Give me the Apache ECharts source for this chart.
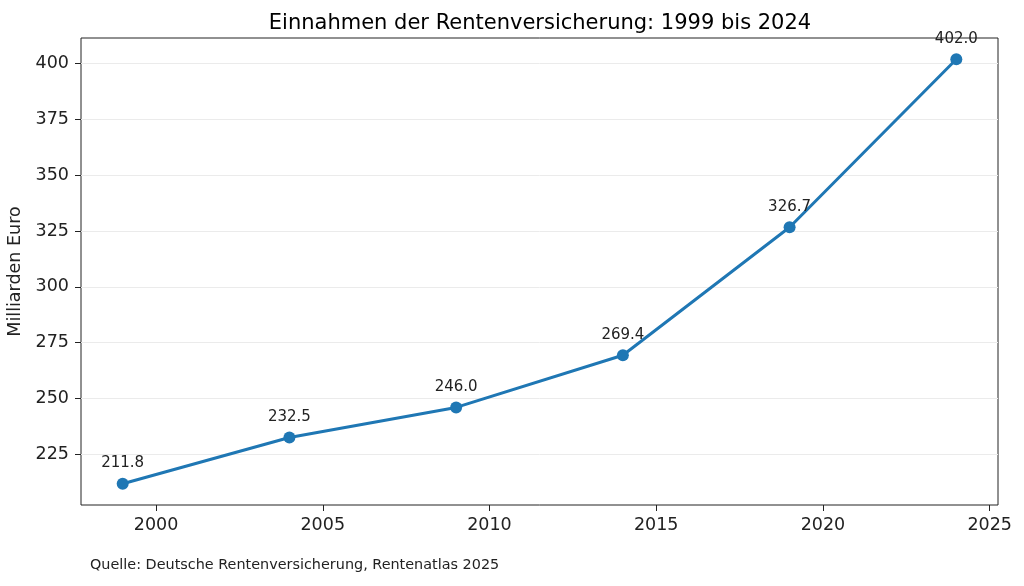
<!DOCTYPE html>
<html>
<head>
<meta charset="utf-8">
<script src="https://cdn.jsdelivr.net/npm/echarts@6/dist/echarts.min.js"></script>
<style>
  html, body { margin: 0; padding: 0; background: #fff; }
  #chart { width: 1024px; height: 586px; }
</style>
</head>
<body>
<div id="chart"></div>
<script>
// Jahre und Einnahmen (Mrd. Euro)
var years = [1999, 2004, 2009, 2014, 2019, 2024];
var einnahmen = [211.8, 232.5, 246.0, 269.4, 326.7, 402.0];
var xTicks = [2000, 2005, 2010, 2015, 2020, 2025];
var yTicks = [225, 250, 275, 300, 325, 350, 375, 400];

var font = 'DejaVu Sans';
var myChart = echarts.init(document.getElementById('chart'));

var points = [];
for (var i = 0; i < years.length; i++) {
    points.push([years[i], einnahmen[i]]);
}

var option = {
    animation: false,
    textStyle: { fontFamily: font },
    title: {
        text: 'Einnahmen der Rentenversicherung: 1999 bis 2024',
        left: 535,
        textAlign: 'center',
        top: 8,
        textStyle: { fontFamily: font, fontSize: 21, fontWeight: 'normal', color: '#000' }
    },
    graphic: [{
        type: 'text',
        left: 90,
        top: 558,
        style: { text: 'Quelle: Deutsche Rentenversicherung, Rentenatlas 2025', font: '14.4px DejaVu Sans', fill: '#222' }
    }],
    grid: {
        left: 81, right: 26, top: 38, bottom: 81,
        outerBoundsMode: 'none',
        containLabel: false,
        show: true, borderColor: '#222', borderWidth: 1, backgroundColor: 'transparent'
    },
    xAxis: {
        type: 'value',
        min: 1997.75,
        max: 2025.25,
        axisLine: { show: false },
        axisTick: { show: true, inside: false, length: 6, lineStyle: { color: '#222' }, customValues: xTicks },
        axisLabel: {
            customValues: xTicks, color: '#222', fontSize: 17.5, margin: 11, fontFamily: font,
            formatter: function (v) { return String(v); }
        },
        splitLine: { show: false }
    },
    yAxis: {
        type: 'value',
        min: 202.29,
        max: 411.51,
        name: 'Milliarden Euro',
        nameLocation: 'middle',
        nameGap: 57,
        nameMoveOverlap: false,
        nameTextStyle: { fontSize: 17.5, color: '#222', fontFamily: font },
        axisLine: { show: false },
        axisTick: { show: true, inside: false, length: 6, lineStyle: { color: '#222' }, customValues: yTicks },
        axisLabel: { customValues: yTicks, color: '#222', fontSize: 17.5, margin: 12, fontFamily: font },
        splitLine: { show: true, lineStyle: { color: '#ebebeb', width: 1 } }
    },
    series: [{
        type: 'line',
        data: points,
        symbol: 'circle',
        symbolSize: 12,
        lineStyle: { color: '#1f77b4', width: 3 },
        itemStyle: { color: '#1f77b4' },
        label: {
            show: true,
            position: 'top',
            distance: 7,
            fontSize: 15,
            color: '#222',
            fontFamily: font,
            formatter: function (p) { return p.value[1].toFixed(1); }
        }
    }]
};

myChart.setOption(option);
window.addEventListener('resize', function () {
    myChart.resize();
});
</script>
</body>
</html>
